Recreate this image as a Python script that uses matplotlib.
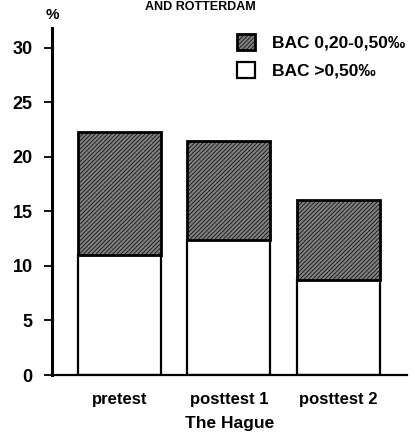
import numpy as np
from matplotlib import pyplot as plt

# data
tests = ['pretest', 'posttest 1', 'posttest 2']
bac_high = [11.0, 12.4, 8.7]      # BAC >0,50‰ (bottom, white)
bac_mid = [11.3, 9.0, 7.3]        # BAC 0,20-0,50‰ (top, hatched)
yticks = [0, 5, 10, 15, 20, 25, 30]

plt.rcParams['font.family'] = ['Liberation Sans', 'DejaVu Sans']
plt.rcParams['font.weight'] = 'bold'
plt.rcParams['hatch.linewidth'] = 0.5

fig = plt.figure(figsize=(4.13, 4.34), dpi=100)
ax = fig.add_axes([52/413, 1-375/434, (407-52)/413, (375-28)/434])

x = np.arange(len(tests))
b1 = ax.bar(x, bac_high, width=0.76, color='white', edgecolor='black', linewidth=1.6)
b2 = ax.bar(x, bac_mid, bottom=bac_high, width=0.76, color='#808080',
            edgecolor='black', linewidth=2.0, hatch='////////')

ax.set_xlim(-0.62, 2.63)
ax.set_ylim(0, 31.8)
ax.set_yticks(yticks)
ax.set_yticklabels([str(t) for t in yticks], fontsize=13, fontweight='bold')
ax.set_xticks(x)
ax.set_xticklabels(tests, fontsize=12, fontweight='bold')
ax.tick_params(axis='x', length=0, pad=12)
ax.tick_params(axis='y', length=6, width=1.3, direction='out', pad=8)
ax.spines['top'].set_visible(False)
ax.spines['right'].set_visible(False)
ax.spines['left'].set_linewidth(2.2)
ax.spines['bottom'].set_linewidth(1.6)
ax.set_xlabel('The Hague', fontsize=12.5, fontweight='bold', labelpad=7)

ax.legend([b2[0], b1[0]], ['BAC 0,20-0,50‰', 'BAC >0,50‰'],
          loc='upper left', bbox_to_anchor=(225/413, 1-22/434),
          bbox_transform=fig.transFigure, frameon=False,
          handlelength=1.0, handleheight=1.0, handletextpad=1.0,
          labelspacing=0.65, borderpad=0.2,
          prop={'weight': 'bold', 'size': 12.5})

fig.text(52/413, 1-15/434, '%', ha='center', va='center', fontsize=11, fontweight='bold')
fig.text(200/413, 1-1/434, 'AND ROTTERDAM', ha='center', va='top', fontsize=9, fontweight='bold')

fig.savefig('out.png', dpi=100)
